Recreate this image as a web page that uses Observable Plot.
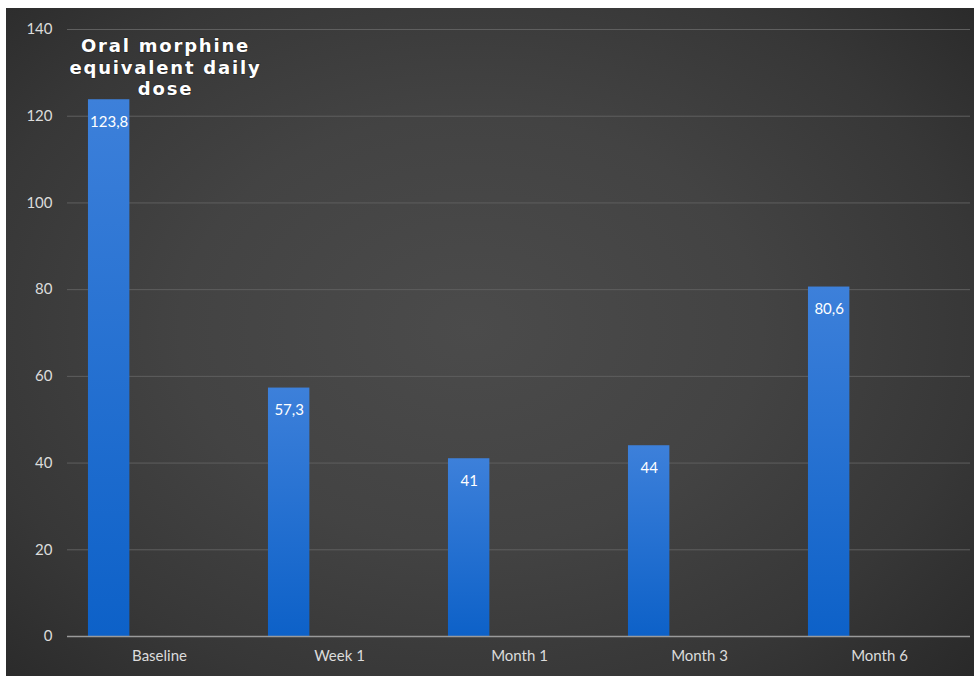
<!DOCTYPE html>
<html>
<head>
<meta charset="utf-8">
<script src="https://cdn.jsdelivr.net/npm/d3@7"></script>
<script src="https://cdn.jsdelivr.net/npm/@observablehq/plot@0.6"></script>
<style>
  html, body { margin: 0; padding: 0; background: #ffffff; }
  #chart { position: absolute; left: 6px; top: 8px; width: 968px; height: 668px; }
</style>
</head>
<body>
<div id="chart"></div>
<script>
const categories = ["Baseline", "Week 1", "Month 1", "Month 3", "Month 6"];
const values = [123.8, 57.3, 41, 44, 80.6];
const yTicks = [0, 20, 40, 60, 80, 100, 120, 140];
const title = "Oral morphine\nequivalent daily\ndose";

const data = categories.map((c, i) => ({category: c, value: values[i]}));
const fmt = v => String(v).replace(".", ",");

const W = 968, H = 668;
const mL = 61, mR = 4, mT = 21, mB = 40;
const band = (W - mL - mR) / categories.length;

const chart = Plot.plot({
  width: W,
  height: H,
  marginLeft: mL,
  marginRight: mR,
  marginTop: mT,
  marginBottom: mB,
  style: {
    background: "radial-gradient(ellipse 75% 80% at 48% 48%, #4b4b4b 0%, #434343 40%, #373737 70%, #262626 100%)",
    color: "#dcdcdc", fontFamily: "Lato, 'Open Sans', sans-serif", fontSize: "15px"
  },
  x: {domain: categories, padding: 0, label: null, tickSize: 0, tickPadding: 14},
  y: {domain: [0, 140], ticks: yTicks, label: null, tickSize: 0, tickPadding: 15},
  marks: [
    Plot.gridY(yTicks.filter(t => t > 0), {stroke: "#5f5f5f", strokeOpacity: 1, strokeWidth: 1}),
    Plot.barY(data, {
      x: "category", y: "value", fill: "url(#barGrad)",
      insetLeft: band * 0.105, insetRight: band - band * 0.105 - 42
    }),
    Plot.ruleY([0], {stroke: "#9a9a9a", strokeWidth: 1.5}),
    Plot.text(data, {
      x: "category", y: "value", text: d => fmt(d.value),
      dx: -(band / 2 - band * 0.105 - 21), dy: 22,
      fill: "#ffffff", fontSize: 15, fontFamily: "Lato, sans-serif"
    }),
    Plot.text([title], {
      frameAnchor: "top-left", dx: 98, dy: 8, lineAnchor: "top", textAnchor: "middle",
      lineHeight: 1.17, fill: "#ffffff", fontSize: 18, fontWeight: "bold",
      fontFamily: "'DejaVu Sans', Verdana, sans-serif"
    })
  ]
});

const svg = d3.select(chart);
const defs = svg.insert("defs", ":first-child");
const g = defs.append("linearGradient").attr("id", "barGrad")
  .attr("x1", 0).attr("y1", 0).attr("x2", 0).attr("y2", 1);
g.append("stop").attr("offset", "0%").attr("stop-color", "#3d80da");
g.append("stop").attr("offset", "100%").attr("stop-color", "#0d61c8");
svg.selectAll("text").filter(function() { return this.textContent.startsWith("Oral"); })
  .attr("letter-spacing", "1.8px")
  .style("paint-order", "stroke")
  .attr("stroke", "rgba(0,0,0,0.25)").attr("stroke-width", 1.5);

document.getElementById("chart").appendChild(chart);
</script>
</body>
</html>
